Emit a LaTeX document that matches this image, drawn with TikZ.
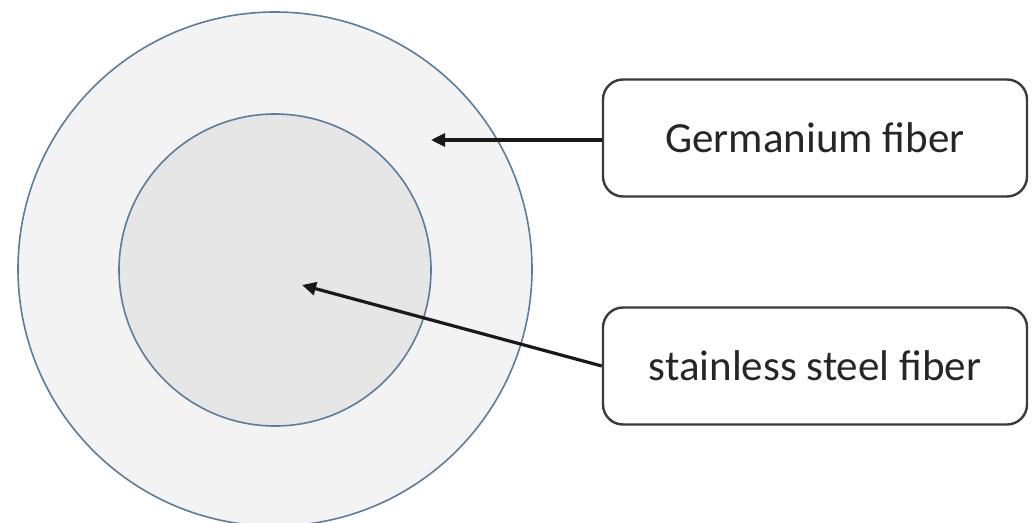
\documentclass[tikz,border=0pt]{standalone}
\usepackage{fontspec}
\setmainfont{Carlito}
\usetikzlibrary{arrows.meta}
\definecolor{ringline}{HTML}{5E7C9A}
\definecolor{outerfill}{HTML}{F3F3F3}
\definecolor{innerfill}{HTML}{E6E6E6}
\definecolor{boxline}{HTML}{3A3A3A}
\tikzset{
  disc/.style={circle, draw=ringline, line width=1.6pt, inner sep=0pt},
  labelbox/.style={draw=boxline, line width=2.4pt, rounded corners=20pt, fill=white,
    minimum width=424pt, minimum height=117pt, inner sep=0pt,
    font=\fontsize{43}{50}\selectfont, text=black!85},
  pointer/.style={-{Triangle[length=14pt,width=13pt]}, line width=3.2pt, draw=black!90}
}
\begin{document}
\begin{tikzpicture}[x=1pt,y=-1pt]
\useasboundingbox (0,0) rectangle (1032,522);
\node[disc, fill=outerfill, minimum size=514pt] (outer) at (275,269) {};
\node[disc, fill=innerfill, minimum size=312pt] (inner) at (275,270) {};
\node[labelbox] (ge) at (815,138) {Germanium fiber};
\node[labelbox] (ss) at (815,366) {stainless steel fiber};
\coordinate (getip) at (431,140);
\coordinate (sstip) at (302,285);
\draw[pointer] (ge.west |- getip) -- (getip);
\draw[pointer] (ss.west) -- (sstip);
\end{tikzpicture}
\end{document}
